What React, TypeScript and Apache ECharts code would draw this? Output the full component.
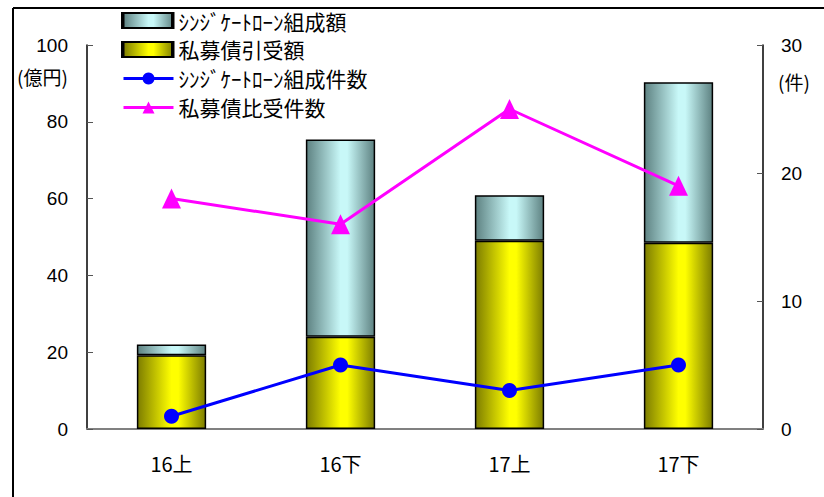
import React, { useEffect, useRef } from "react";
import * as echarts from "echarts";

const categories = ["16上", "16下", "17上", "17下"];
// 億円
const privateBondAmount = [19.2, 24.0, 49.0, 48.5];
const syndicatedLoanAmount = [2.8, 51.4, 11.9, 41.8];
// 件
const syndicatedLoanCount = [1, 5, 3, 5];
const privateBondCount = [18, 16, 25, 19];

const leftTicks = { min: 0, max: 100, interval: 20 };
const rightTicks = { min: 0, max: 30, interval: 10 };

const NAME_SYN_AMT = "ｼﾝｼﾞｹｰﾄﾛｰﾝ組成額";
const NAME_BOND_AMT = "私募債引受額";
const NAME_SYN_CNT = "ｼﾝｼﾞｹｰﾄﾛｰﾝ組成件数";
const NAME_BOND_CNT = "私募債比受件数";

const FONT = "'Liberation Sans', 'Noto Sans CJK JP', sans-serif";
const JP_FONT = "'Noto Sans CJK JP', 'Liberation Sans', sans-serif";

// legend geometry (shared by the legend and the outline drawn over its bar swatches)
const LEGEND_LEFT = 122;
const LEGEND_TOP = 10;
const LEGEND_FONT = 21;
const SWATCH_W = 50;
const SWATCH_H = 15;
const LEGEND_GAP = 8;

const cylinder = (edge: string, mid: string) =>
  new echarts.graphic.LinearGradient(0, 0, 1, 0, [
    { offset: 0, color: edge },
    { offset: 0.5, color: mid },
    { offset: 0.6, color: mid },
    { offset: 1, color: edge },
  ]);

const yellowFill = () => cylinder("#7d7d00", "#ffff00");
const cyanFill = () => cylinder("#5e8282", "#c8f8f8");

export default function App() {
  const ref = useRef<HTMLDivElement>(null);

  useEffect(() => {
    if (!ref.current) return;
    const chart = echarts.init(ref.current, undefined, { renderer: "svg" });

    const axisTextStyle = { color: "#000", fontSize: 19, fontFamily: FONT };
    const rowPitch = LEGEND_FONT + LEGEND_GAP;
    const swatchOutline = (row: number) => ({
      type: "rect",
      shape: {
        x: LEGEND_LEFT,
        y: LEGEND_TOP + row * rowPitch + (LEGEND_FONT - SWATCH_H) / 2,
        width: SWATCH_W,
        height: SWATCH_H,
      },
      style: { fill: "none", stroke: "#000", lineWidth: 2 },
      z: 100,
    });

    chart.setOption({
      animation: false,
      backgroundColor: "#fff",
      grid: { left: 87, right: 61, top: 45, bottom: 68, containLabel: false },
      legend: {
        left: LEGEND_LEFT,
        top: LEGEND_TOP,
        padding: 0,
        orient: "vertical",
        itemWidth: SWATCH_W,
        itemHeight: SWATCH_H,
        itemGap: LEGEND_GAP,
        textStyle: { color: "#000", fontSize: LEGEND_FONT, fontFamily: JP_FONT },
        lineStyle: { width: 3 },
        data: [
          { name: NAME_SYN_AMT, icon: "rect" },
          { name: NAME_BOND_AMT, icon: "rect" },
          { name: NAME_SYN_CNT },
          { name: NAME_BOND_CNT },
        ],
      },
      xAxis: {
        type: "category",
        data: categories,
        axisLine: { lineStyle: { color: "#808080", width: 2 } },
        axisTick: { inside: true, length: 8, lineStyle: { color: "#404040" } },
        axisLabel: { color: "#000", fontSize: 20, fontFamily: JP_FONT, margin: 24 },
      },
      yAxis: [
        {
          type: "value",
          ...leftTicks,
          axisLine: { show: true, lineStyle: { color: "#000", width: 1.5 } },
          axisTick: { show: true, inside: true, length: 6, lineStyle: { color: "#555" } },
          axisLabel: { ...axisTextStyle, margin: 19 },
          splitLine: { show: false },
        },
        {
          type: "value",
          ...rightTicks,
          position: "right",
          axisLine: { show: true, lineStyle: { color: "#000", width: 1.5 } },
          axisTick: { show: true, inside: true, length: 6, lineStyle: { color: "#555" } },
          axisLabel: { ...axisTextStyle, margin: 18 },
          splitLine: { show: false },
        },
      ],
      series: [
        {
          name: NAME_BOND_AMT,
          type: "bar",
          stack: "amount",
          barWidth: "41%",
          data: privateBondAmount,
          itemStyle: { color: yellowFill(), borderColor: "#000", borderWidth: 1.5 },
        },
        {
          name: NAME_SYN_AMT,
          type: "bar",
          stack: "amount",
          barWidth: "41%",
          data: syndicatedLoanAmount,
          itemStyle: { color: cyanFill(), borderColor: "#000", borderWidth: 1.5 },
        },
        {
          name: NAME_SYN_CNT,
          type: "line",
          yAxisIndex: 1,
          data: syndicatedLoanCount,
          symbol: "circle",
          symbolSize: 15,
          lineStyle: { color: "#0000ff", width: 3 },
          itemStyle: { color: "#0000ff" },
        },
        {
          name: NAME_BOND_CNT,
          type: "line",
          yAxisIndex: 1,
          data: privateBondCount,
          symbol: "triangle",
          symbolSize: [19, 20],
          lineStyle: { color: "#ff00ff", width: 3 },
          itemStyle: { color: "#ff00ff" },
        },
      ],
      graphic: [
        {
          type: "line",
          shape: { x1: 13, y1: 8, x2: 824, y2: 8 },
          style: { stroke: "#000", lineWidth: 2 },
        },
        {
          type: "line",
          shape: { x1: 13, y1: 8, x2: 13, y2: 497 },
          style: { stroke: "#000", lineWidth: 2 },
        },
        swatchOutline(0),
        swatchOutline(1),
        {
          type: "text",
          left: 17,
          top: 67,
          style: { text: "(億円)", fill: "#000", font: `19px ${JP_FONT}` },
        },
        {
          type: "text",
          left: 778,
          top: 72,
          style: { text: "(件)", fill: "#000", font: `19px ${JP_FONT}` },
        },
      ],
    });

    return () => chart.dispose();
  }, []);

  return (
    <div
      ref={ref}
      style={{ position: "absolute", left: 0, top: 0, width: 824, height: 497 }}
    />
  );
}
